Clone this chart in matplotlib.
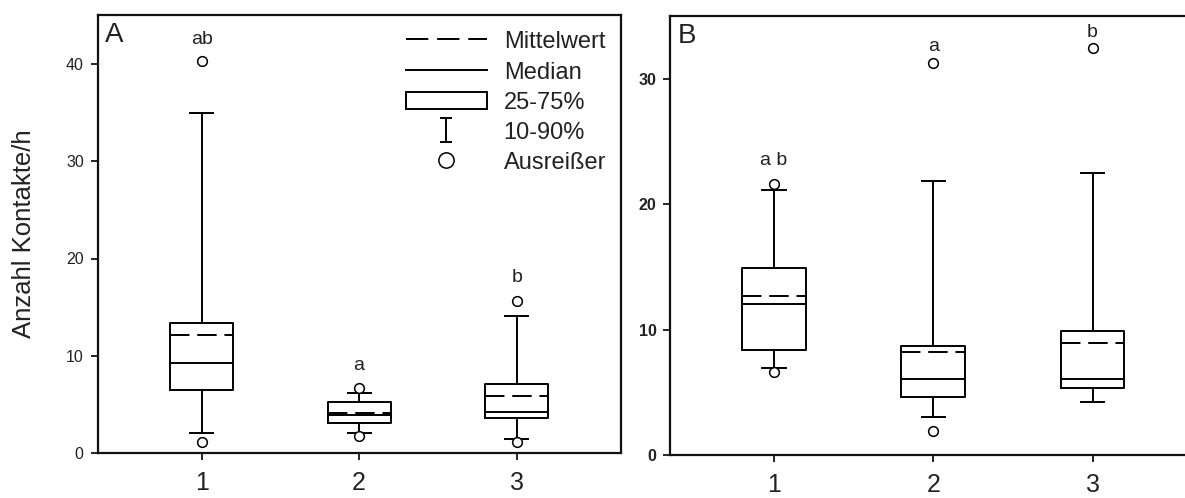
import matplotlib
matplotlib.use("Agg")
import matplotlib.pyplot as plt
from matplotlib.lines import Line2D
from matplotlib.patches import Rectangle
from matplotlib.path import Path
from matplotlib.legend_handler import HandlerPatch

plt.rcParams['font.family'] = ['Liberation Sans', 'DejaVu Sans']

# ---------------- data ----------------
groups = [1, 2, 3]

# Panel A
a_p10 = [2.05, 2.05, 1.47]
a_q1 = [6.5, 3.15, 3.6]
a_med = [9.25, 3.94, 4.21]
a_mean = [12.1, 4.1, 5.89]
a_q3 = [13.36, 5.24, 7.09]
a_p90 = [34.9, 6.17, 14.1]
a_out = [[40.3, 1.13], [6.68, 1.78], [15.6, 1.13]]
a_letters = ["ab", "a", "b"]
a_letter_y = [42.5, 9.0, 18.1]

# Panel B
b_p10 = [6.95, 3.05, 4.24]
b_q1 = [8.36, 4.59, 5.31]
b_med = [12.02, 6.03, 6.03]
b_mean = [12.68, 8.23, 8.94]
b_q3 = [14.9, 8.68, 9.87]
b_p90 = [21.15, 21.84, 22.45]
b_out = [[21.63, 6.63], [31.27, 1.91], [32.43]]
b_letters = ["a b", "a", "b"]
b_letter_y = [23.5, 32.6, 33.7]

a_yticks = [0, 10, 20, 30, 40]
b_yticks = [0, 10, 20, 30]

legend_labels = ["Mittelwert", "Median", "25-75%", "10-90%", "Ausreißer"]
ylabel = "Anzahl Kontakte/h"

# ---------------- style ----------------
TXT = '#222222'
LW = 1.4
DASH = (0, (10, 4))

fig = plt.figure(figsize=(11.85, 4.98), dpi=100)
axA = fig.add_axes([97.6/1185, (498-453.3)/498, 523/1185, 438.3/498])
axB = fig.add_axes([670.4/1185, (498-455)/498, 525.7/1185, 439/498])


def make_stats(p10, q1, med, mean, q3, p90, out):
    stats = []
    for i in range(len(q1)):
        stats.append(dict(whislo=p10[i], q1=q1[i], med=med[i], mean=mean[i],
                          q3=q3[i], whishi=p90[i], fliers=out[i]))
    return stats


def draw(ax, stats, letters, letter_y):
    lp = dict(color='black', linewidth=LW)
    ax.bxp(stats, positions=groups, widths=0.4, capwidths=0.146,
           showmeans=True, meanline=True, showfliers=True,
           boxprops=lp, whiskerprops=lp, capprops=lp,
           medianprops=dict(color='black', linewidth=LW),
           meanprops=dict(color='black', linewidth=LW, linestyle=DASH),
           flierprops=dict(marker='o', markersize=7, markerfacecolor='white',
                           markeredgecolor='black', markeredgewidth=1.1))
    for x, t, y in zip(groups, letters, letter_y):
        ax.text(x, y, t, ha='center', va='center', fontsize=14, color=TXT)
    ax.tick_params(axis='y', direction='out', length=5, width=1.2,
                   labelsize=11.5, colors='black', labelcolor=TXT, pad=5)
    ax.tick_params(axis='x', direction='out', length=5, width=1.2,
                   labelsize=18, labelcolor=TXT, pad=8)
    for s in ax.spines.values():
        s.set_linewidth(1.6)
        s.set_color('#111111')


draw(axA, make_stats(a_p10, a_q1, a_med, a_mean, a_q3, a_p90, a_out), a_letters, a_letter_y)
axA.set_xlim(0.34, 3.66)
axA.set_ylim(0, 45)
axA.set_yticks(a_yticks)
axA.set_xticks(groups)
axA.set_xticklabels([str(g) for g in groups])
axA.set_ylabel(ylabel, fontsize=18.5, color=TXT)
axA.yaxis.set_label_coords(-0.118, 0.5)
axA.text(0.014, 0.984, "A", transform=axA.transAxes, ha='left', va='top',
         fontsize=20, color=TXT)

draw(axB, make_stats(b_p10, b_q1, b_med, b_mean, b_q3, b_p90, b_out), b_letters, b_letter_y)
axB.set_xlim(0.35, 3.65)
axB.set_ylim(0, 35)
axB.set_yticks(b_yticks)
axB.set_xticks(groups)
axB.set_xticklabels([str(g) for g in groups])
for lab in axB.get_yticklabels():
    lab.set_fontweight('bold')
axB.text(0.014, 0.984, "B", transform=axB.transAxes, ha='left', va='top',
         fontsize=20, color=TXT)

# ---------------- legend ----------------
whisker_path = Path([(-0.55, -1), (0.55, -1), (0, -1), (0, 1), (-0.55, 1), (0.55, 1)],
                    [Path.MOVETO, Path.LINETO, Path.MOVETO, Path.LINETO,
                     Path.MOVETO, Path.LINETO])


def box_patch(legend, orig_handle, xdescent, ydescent, width, height, fontsize):
    h = 17 * 72 / 100.0
    return Rectangle((-xdescent, -ydescent + (height - h) / 2), width, h)


box_handle = Rectangle((0, 0), 1, 1, facecolor='white', edgecolor='black', linewidth=LW)
handles = [
    Line2D([], [], color='black', linewidth=LW, linestyle=(0, (11.5, 4.5))),
    Line2D([], [], color='black', linewidth=LW),
    box_handle,
    Line2D([], [], linestyle='none', marker=whisker_path, markersize=17,
           color='black', markeredgewidth=LW),
    Line2D([], [], linestyle='none', marker='o', markersize=11,
           markerfacecolor='white', markeredgecolor='black', markeredgewidth=1.1),
]
leg = axA.legend(handles, legend_labels, loc='upper left',
                 bbox_to_anchor=(0.589, 0.965), frameon=False, fontsize=17,
                 handlelength=3.43, handleheight=0.9, handletextpad=0.72,
                 labelspacing=0.31, borderpad=0, borderaxespad=0,
                 handler_map={box_handle: HandlerPatch(patch_func=box_patch)})
for t in leg.get_texts():
    t.set_color(TXT)

fig.savefig("out.png", dpi=100)
